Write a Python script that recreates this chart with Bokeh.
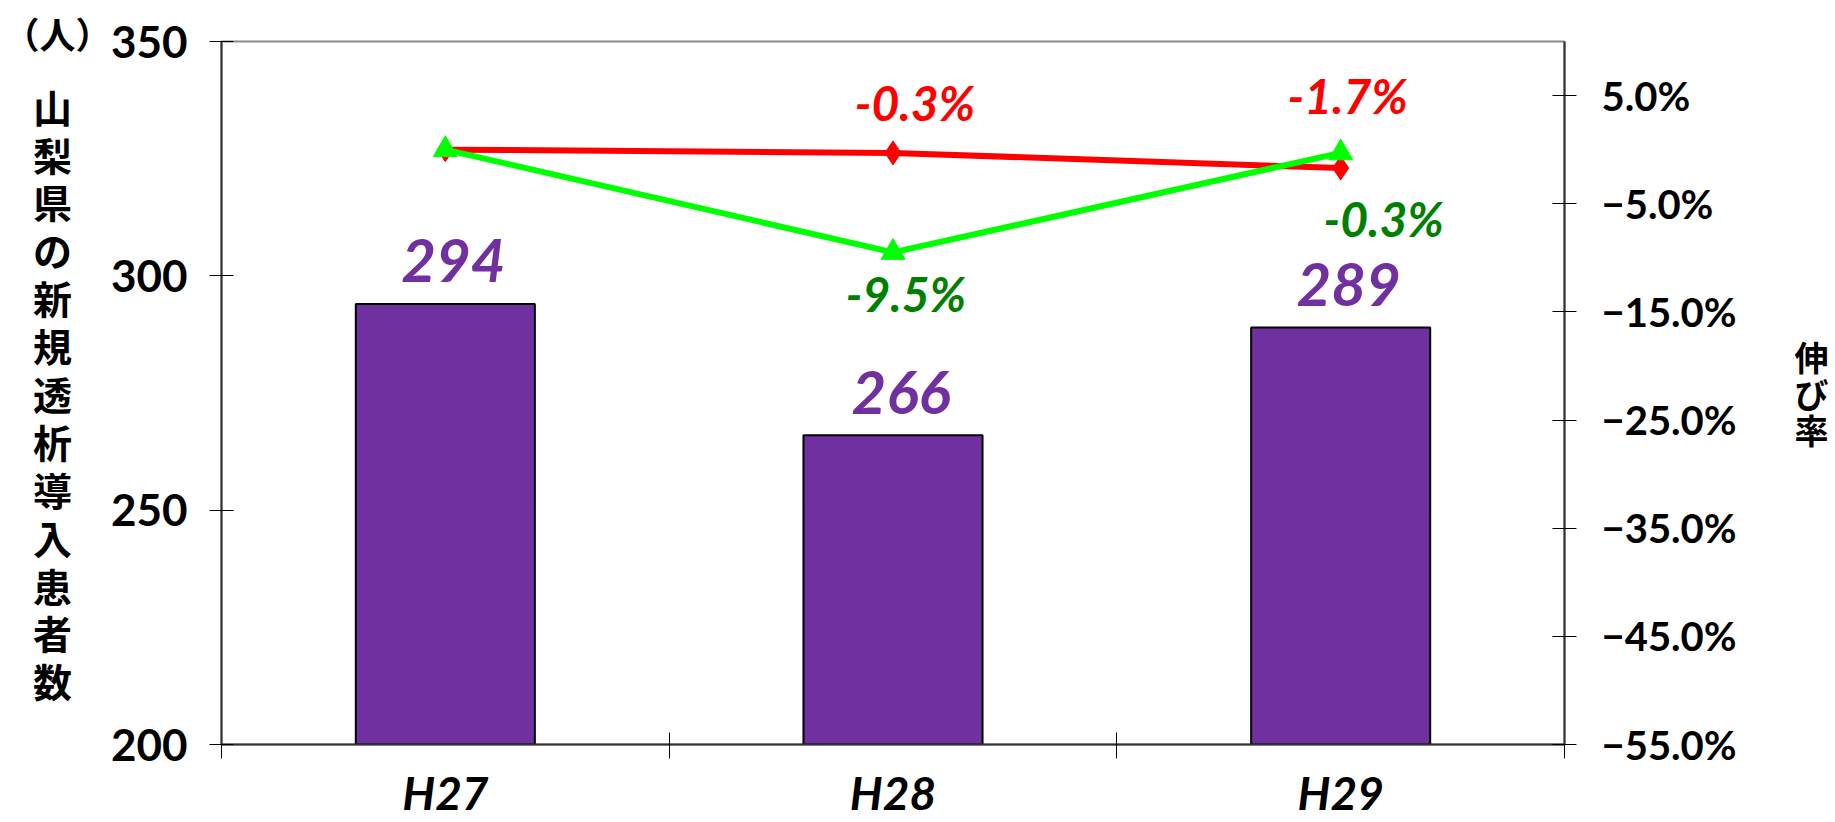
import numpy as np
from bokeh.plotting import figure
from bokeh.models import (ColumnDataSource, Range1d, LinearAxis, FixedTicker, Title)
from bokeh.core.properties import value
from bokeh.embed import file_html
from bokeh.resources import INLINE

# ---- data ----
years = ["H27", "H28", "H29"]
patients = [294, 266, 289]
rate_red = [0.0, -0.3, -1.7]
rate_green = [0.0, -9.5, -0.3]
red_labels = ["", "-0.3%", "-1.7%"]
green_labels = ["", "-9.5%", "-0.3%"]
left_ticks = [200, 250, 300, 350]
pct_ticks = [-55, -45, -35, -25, -15, -5, 5]
pct_tick_labels = ["\u221255.0%", "\u221245.0%", "\u221235.0%", "\u221225.0%",
                   "\u221215.0%", "\u22125.0%", "5.0%"]
y_title = "山梨県の新規透析導入患者数"
unit_label = "（人）"
right_title = "伸び率"

# ---- styles / offsets (screen pixels) ----
red_dx = [0, 22, 7]
red_dy = [0, -50, -73]
green_dx = [0, 13, 43]
green_dy = [0, 41, 66]

PURPLE = "#7030A0"
NUM_FONT = "Lato"
CJK_FONT = "Noto Sans CJK JP"

xs = np.arange(len(years)) + 0.5

p = figure(width=1835, height=822, output_backend="svg", toolbar_location=None,
           x_range=Range1d(0, len(years)), y_range=Range1d(200, 350),
           min_border_left=221, min_border_right=271, min_border_top=41,
           min_border_bottom=74, background_fill_color="white",
           border_fill_color="white")
p.xgrid.visible = False
p.ygrid.visible = False
p.outline_line_color = "#8a8a8a"
p.outline_line_width = 2
p.extra_y_ranges = {"pct": Range1d(-55, 10)}

# bars
bar_src = ColumnDataSource(dict(x=xs, top=patients, lab=[str(v) for v in patients]))
p.vbar(x="x", top="top", bottom=200, width=0.4, source=bar_src,
       fill_color=PURPLE, line_color="black", line_width=2)
p.text(x="x", y="top", text="lab", source=bar_src, x_offset=8, y_offset=-43,
       text_align="center", text_baseline="middle", text_color=PURPLE,
       text_font=value(NUM_FONT), text_font_style="bold italic",
       text_font_size="60px")

# lines
red_src = ColumnDataSource(dict(x=xs, y=rate_red, lab=red_labels, dx=red_dx, dy=red_dy))
green_src = ColumnDataSource(dict(x=xs, y=rate_green, lab=green_labels, dx=green_dx, dy=green_dy))
p.line(x="x", y="y", source=red_src, y_range_name="pct", line_color="#FF0000", line_width=6)
p.scatter(x="x", y="y", source=red_src, y_range_name="pct", marker="diamond",
          size=24, fill_color="#FF0000", line_color="#FF0000")
p.line(x="x", y="y", source=green_src, y_range_name="pct", line_color="#00FF00", line_width=6)
p.scatter(x="x", y="y", source=green_src, y_range_name="pct", marker="triangle",
          size=24, fill_color="#00FF00", line_color="#00FF00")
p.text(x="x", y="y", text="lab", source=red_src, y_range_name="pct",
       x_offset="dx", y_offset="dy", text_align="center", text_baseline="middle",
       text_color="#FF0000", text_font=value(NUM_FONT), text_font_style="bold italic",
       text_font_size="48px")
p.text(x="x", y="y", text="lab", source=green_src, y_range_name="pct",
       x_offset="dx", y_offset="dy", text_align="center", text_baseline="middle",
       text_color="#008000", text_font=value(NUM_FONT), text_font_style="bold italic",
       text_font_size="48px")

# left axis
ly = p.yaxis[0]
ly.ticker = FixedTicker(ticks=left_ticks)
ly.axis_line_color = "#333333"
ly.axis_line_width = 2
ly.major_tick_in = 12
ly.major_tick_out = 12
ly.major_tick_line_color = "black"
ly.minor_tick_line_color = None
ly.major_label_standoff = 22
ly.major_label_text_font = NUM_FONT
ly.major_label_text_font_style = "bold"
ly.major_label_text_font_size = "44px"
ly.major_label_text_color = "black"
ly.axis_label = "\n".join(y_title)
ly.axis_label_orientation = "horizontal"
ly.axis_label_standoff = 36
ly.axis_label_text_font = CJK_FONT
ly.axis_label_text_font_style = "bold"
ly.axis_label_text_font_size = "39px"
ly.axis_label_text_line_height = 0.855
ly.axis_label_text_color = "black"

# right axis
ry = LinearAxis(y_range_name="pct", ticker=FixedTicker(ticks=pct_ticks))
ry.major_label_overrides = {t: s for t, s in zip(pct_ticks, pct_tick_labels)}
ry.axis_line_color = "#333333"
ry.axis_line_width = 2
ry.major_tick_in = 12
ry.major_tick_out = 12
ry.major_tick_line_color = "black"
ry.minor_tick_line_color = None
ry.major_label_standoff = 25
ry.major_label_text_font = NUM_FONT
ry.major_label_text_font_style = "bold"
ry.major_label_text_font_size = "40px"
ry.major_label_text_color = "black"
ry.axis_label = "\n".join(right_title)
ry.axis_label_orientation = "horizontal"
ry.axis_label_standoff = 55
ry.axis_label_text_font = CJK_FONT
ry.axis_label_text_font_style = "bold"
ry.axis_label_text_font_size = "34px"
ry.axis_label_text_line_height = 0.74
ry.axis_label_text_color = "black"
p.add_layout(ry, "right")

# bottom axis: labels at centers, ticks at category boundaries
bx = p.xaxis[0]
bx.ticker = FixedTicker(ticks=list(xs), minor_ticks=list(range(len(years) + 1)))
bx.major_label_overrides = {float(x): y for x, y in zip(xs, years)}
bx.axis_line_color = "#333333"
bx.axis_line_width = 2
bx.major_tick_line_color = None
bx.major_tick_in = 0
bx.major_tick_out = 14
bx.minor_tick_line_color = "black"
bx.minor_tick_in = 12
bx.minor_tick_out = 14
bx.major_label_standoff = 6
bx.major_label_text_font = NUM_FONT
bx.major_label_text_font_style = "bold italic"
bx.major_label_text_font_size = "46px"
bx.major_label_text_color = "black"

# unit label at the top-left
p.add_layout(Title(text=unit_label, align="left", offset=-218, standoff=-36,
                   vertical_align="middle", text_font=CJK_FONT,
                   text_font_style="bold", text_font_size="36px",
                   text_color="black"), "above")

open("out.html", "w").write(file_html(p, INLINE))
